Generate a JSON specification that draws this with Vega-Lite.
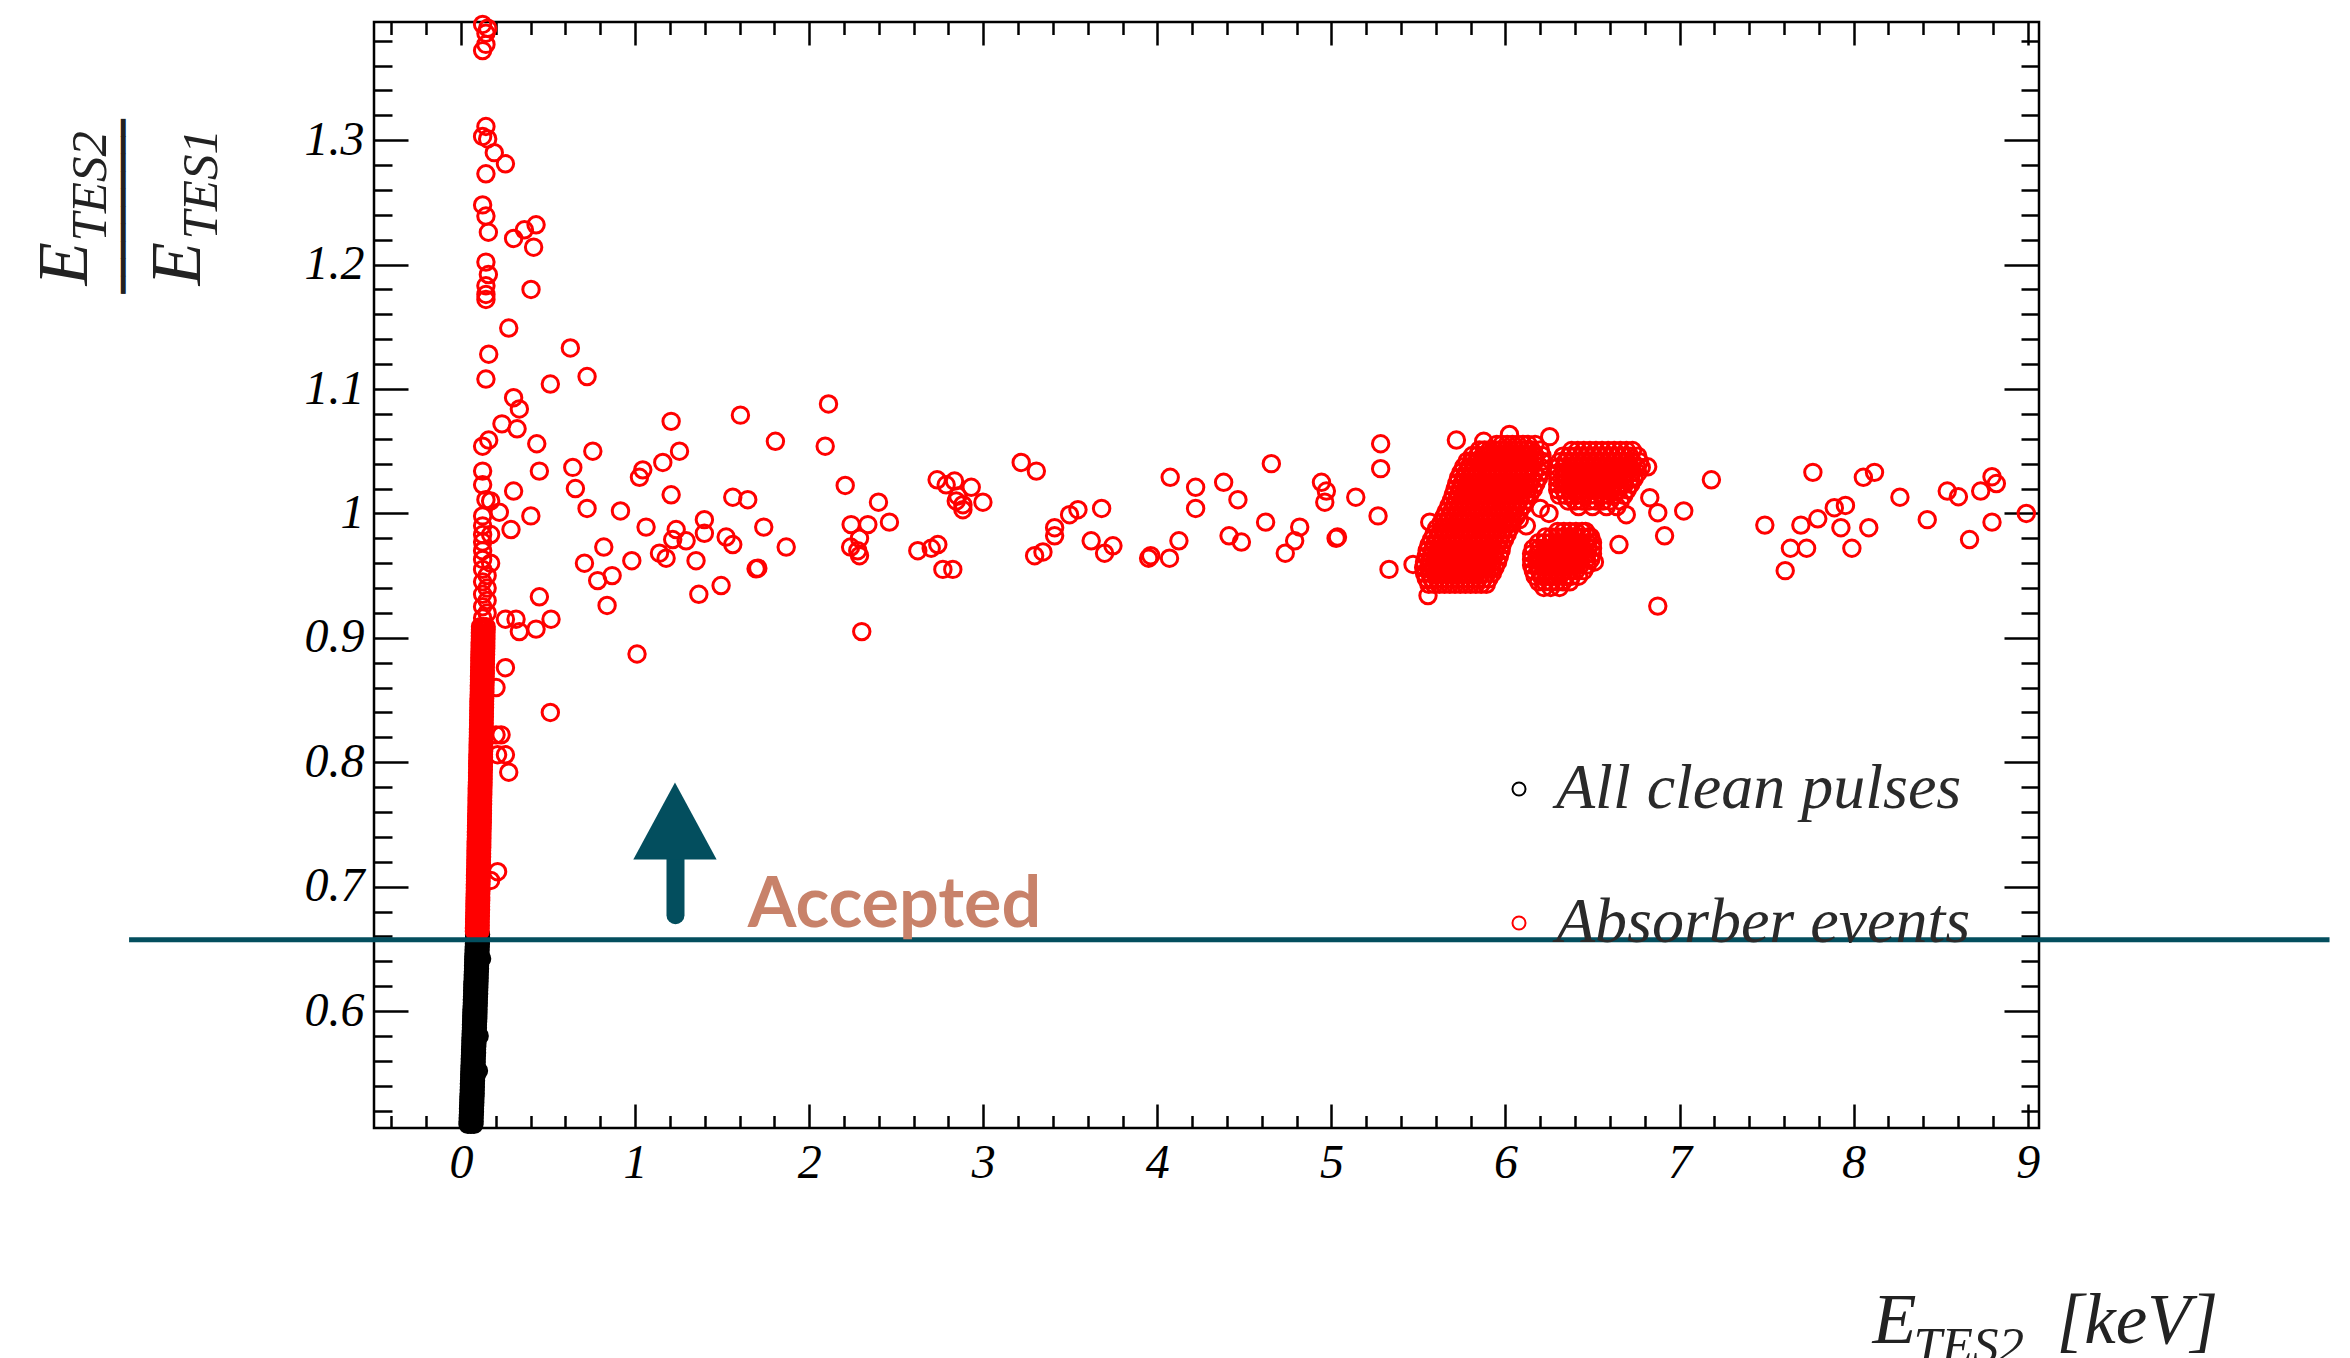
{
  "$schema": "https://vega.github.io/schema/vega-lite/v6.json",
  "width": 1665,
  "height": 1106,
  "autosize": {"type": "none"},
  "padding": {"left": 374, "top": 22, "right": 311, "bottom": 230},
  "background": "white",
  "config": {
    "view": {"stroke": "#000", "strokeWidth": 2.5},
    "axis": {"grid": false, "domain": false, "labelFont": "Liberation Serif", "labelFontStyle": "italic", "labelColor": "#000", "tickColor": "#000", "tickWidth": 2.5, "titleFont": "Liberation Serif", "titleFontStyle": "italic", "titleFontWeight": "normal", "titleColor": "#222", "labelOverlap": false, "labelFlush": false, "labelBound": false}
  },
  "datasets": {
    "clean": [
      {"e":0.040,"r":0.509},{"e":0.057,"r":0.509},{"e":0.074,"r":0.509},
      {"e":0.041,"r":0.5115},{"e":0.058,"r":0.5115},{"e":0.075,"r":0.5115},
      {"e":0.041,"r":0.514},{"e":0.058,"r":0.514},{"e":0.075,"r":0.514},
      {"e":0.042,"r":0.5165},{"e":0.059,"r":0.5165},{"e":0.076,"r":0.5165},
      {"e":0.043,"r":0.519},{"e":0.060,"r":0.519},{"e":0.077,"r":0.519},
      {"e":0.043,"r":0.5215},{"e":0.060,"r":0.5215},{"e":0.077,"r":0.5215},
      {"e":0.044,"r":0.524},{"e":0.061,"r":0.524},{"e":0.078,"r":0.524},
      {"e":0.045,"r":0.5265},{"e":0.062,"r":0.5265},{"e":0.079,"r":0.5265},
      {"e":0.045,"r":0.529},{"e":0.062,"r":0.529},{"e":0.079,"r":0.529},
      {"e":0.046,"r":0.5315},{"e":0.063,"r":0.5315},{"e":0.080,"r":0.5315},
      {"e":0.047,"r":0.534},{"e":0.064,"r":0.534},{"e":0.081,"r":0.534},
      {"e":0.047,"r":0.5365},{"e":0.064,"r":0.5365},{"e":0.081,"r":0.5365},
      {"e":0.048,"r":0.539},{"e":0.065,"r":0.539},{"e":0.082,"r":0.539},
      {"e":0.048,"r":0.5415},{"e":0.065,"r":0.5415},{"e":0.082,"r":0.5415},
      {"e":0.049,"r":0.544},{"e":0.066,"r":0.544},{"e":0.083,"r":0.544},
      {"e":0.050,"r":0.5465},{"e":0.067,"r":0.5465},{"e":0.084,"r":0.5465},
      {"e":0.050,"r":0.549},{"e":0.067,"r":0.549},{"e":0.084,"r":0.549},
      {"e":0.051,"r":0.5515},{"e":0.068,"r":0.5515},{"e":0.085,"r":0.5515},
      {"e":0.052,"r":0.554},{"e":0.069,"r":0.554},{"e":0.086,"r":0.554},
      {"e":0.052,"r":0.5565},{"e":0.069,"r":0.5565},{"e":0.086,"r":0.5565},
      {"e":0.053,"r":0.559},{"e":0.070,"r":0.559},{"e":0.087,"r":0.559},
      {"e":0.053,"r":0.5615},{"e":0.070,"r":0.5615},{"e":0.087,"r":0.5615},
      {"e":0.054,"r":0.564},{"e":0.071,"r":0.564},{"e":0.088,"r":0.564},
      {"e":0.055,"r":0.5665},{"e":0.072,"r":0.5665},{"e":0.089,"r":0.5665},
      {"e":0.055,"r":0.569},{"e":0.072,"r":0.569},{"e":0.089,"r":0.569},
      {"e":0.056,"r":0.5715},{"e":0.073,"r":0.5715},{"e":0.090,"r":0.5715},
      {"e":0.057,"r":0.574},{"e":0.074,"r":0.574},{"e":0.091,"r":0.574},
      {"e":0.057,"r":0.5765},{"e":0.074,"r":0.5765},{"e":0.091,"r":0.5765},
      {"e":0.058,"r":0.579},{"e":0.075,"r":0.579},{"e":0.092,"r":0.579},
      {"e":0.058,"r":0.5815},{"e":0.075,"r":0.5815},{"e":0.092,"r":0.5815},
      {"e":0.059,"r":0.584},{"e":0.076,"r":0.584},{"e":0.093,"r":0.584},
      {"e":0.060,"r":0.5865},{"e":0.077,"r":0.5865},{"e":0.094,"r":0.5865},
      {"e":0.060,"r":0.589},{"e":0.077,"r":0.589},{"e":0.094,"r":0.589},
      {"e":0.061,"r":0.5915},{"e":0.078,"r":0.5915},{"e":0.095,"r":0.5915},
      {"e":0.062,"r":0.594},{"e":0.079,"r":0.594},{"e":0.096,"r":0.594},
      {"e":0.062,"r":0.5965},{"e":0.079,"r":0.5965},{"e":0.096,"r":0.5965},
      {"e":0.063,"r":0.599},{"e":0.080,"r":0.599},{"e":0.097,"r":0.599},
      {"e":0.063,"r":0.6015},{"e":0.080,"r":0.6015},{"e":0.097,"r":0.6015},
      {"e":0.064,"r":0.604},{"e":0.081,"r":0.604},{"e":0.098,"r":0.604},
      {"e":0.065,"r":0.6065},{"e":0.082,"r":0.6065},{"e":0.099,"r":0.6065},
      {"e":0.065,"r":0.609},{"e":0.082,"r":0.609},{"e":0.099,"r":0.609},
      {"e":0.066,"r":0.6115},{"e":0.083,"r":0.6115},{"e":0.100,"r":0.6115},
      {"e":0.067,"r":0.614},{"e":0.084,"r":0.614},{"e":0.101,"r":0.614},
      {"e":0.067,"r":0.6165},{"e":0.084,"r":0.6165},{"e":0.101,"r":0.6165},
      {"e":0.068,"r":0.619},{"e":0.085,"r":0.619},{"e":0.102,"r":0.619},
      {"e":0.068,"r":0.6215},{"e":0.085,"r":0.6215},{"e":0.102,"r":0.6215},
      {"e":0.069,"r":0.624},{"e":0.086,"r":0.624},{"e":0.103,"r":0.624},
      {"e":0.070,"r":0.6265},{"e":0.087,"r":0.6265},{"e":0.104,"r":0.6265},
      {"e":0.070,"r":0.629},{"e":0.087,"r":0.629},{"e":0.104,"r":0.629},
      {"e":0.071,"r":0.6315},{"e":0.088,"r":0.6315},{"e":0.105,"r":0.6315},
      {"e":0.072,"r":0.634},{"e":0.089,"r":0.634},{"e":0.106,"r":0.634},
      {"e":0.072,"r":0.6365},{"e":0.089,"r":0.6365},{"e":0.106,"r":0.6365},
      {"e":0.073,"r":0.639},{"e":0.090,"r":0.639},{"e":0.107,"r":0.639},
      {"e":0.073,"r":0.6415},{"e":0.090,"r":0.6415},{"e":0.107,"r":0.6415},
      {"e":0.074,"r":0.644},{"e":0.091,"r":0.644},{"e":0.108,"r":0.644},
      {"e":0.075,"r":0.6465},{"e":0.092,"r":0.6465},{"e":0.109,"r":0.6465},
      {"e":0.075,"r":0.649},{"e":0.092,"r":0.649},{"e":0.109,"r":0.649},
      {"e":0.076,"r":0.6515},{"e":0.093,"r":0.6515},{"e":0.110,"r":0.6515},
      {"e":0.077,"r":0.654},{"e":0.094,"r":0.654},{"e":0.111,"r":0.654},
      {"e":0.077,"r":0.6565},{"e":0.094,"r":0.6565},{"e":0.111,"r":0.6565},
      {"e":0.078,"r":0.659},{"e":0.095,"r":0.659},{"e":0.112,"r":0.659},
      {"e":0.078,"r":0.6615},{"e":0.095,"r":0.6615},{"e":0.112,"r":0.6615},
      {"e":0.118,"r":0.642},{"e":0.104,"r":0.58},{"e":0.1,"r":0.552}
    ],
    "absorber": [
      {"e":0.077,"r":0.664},{"e":0.093,"r":0.664},{"e":0.109,"r":0.664},
      {"e":0.077,"r":0.6665},{"e":0.093,"r":0.6665},{"e":0.109,"r":0.6665},
      {"e":0.078,"r":0.669},{"e":0.094,"r":0.669},{"e":0.110,"r":0.669},
      {"e":0.078,"r":0.6715},{"e":0.094,"r":0.6715},{"e":0.110,"r":0.6715},
      {"e":0.078,"r":0.674},{"e":0.094,"r":0.674},{"e":0.110,"r":0.674},
      {"e":0.079,"r":0.6765},{"e":0.095,"r":0.6765},{"e":0.111,"r":0.6765},
      {"e":0.079,"r":0.679},{"e":0.095,"r":0.679},{"e":0.111,"r":0.679},
      {"e":0.080,"r":0.6815},{"e":0.096,"r":0.6815},{"e":0.112,"r":0.6815},
      {"e":0.080,"r":0.684},{"e":0.096,"r":0.684},{"e":0.112,"r":0.684},
      {"e":0.080,"r":0.6865},{"e":0.096,"r":0.6865},{"e":0.112,"r":0.6865},
      {"e":0.081,"r":0.689},{"e":0.097,"r":0.689},{"e":0.113,"r":0.689},
      {"e":0.081,"r":0.6915},{"e":0.097,"r":0.6915},{"e":0.113,"r":0.6915},
      {"e":0.081,"r":0.694},{"e":0.097,"r":0.694},{"e":0.113,"r":0.694},
      {"e":0.082,"r":0.6965},{"e":0.098,"r":0.6965},{"e":0.114,"r":0.6965},
      {"e":0.082,"r":0.699},{"e":0.098,"r":0.699},{"e":0.114,"r":0.699},
      {"e":0.082,"r":0.7015},{"e":0.098,"r":0.7015},{"e":0.114,"r":0.7015},
      {"e":0.083,"r":0.704},{"e":0.099,"r":0.704},{"e":0.115,"r":0.704},
      {"e":0.083,"r":0.7065},{"e":0.099,"r":0.7065},{"e":0.115,"r":0.7065},
      {"e":0.083,"r":0.709},{"e":0.099,"r":0.709},{"e":0.115,"r":0.709},
      {"e":0.084,"r":0.7115},{"e":0.100,"r":0.7115},{"e":0.116,"r":0.7115},
      {"e":0.084,"r":0.714},{"e":0.100,"r":0.714},{"e":0.116,"r":0.714},
      {"e":0.085,"r":0.7165},{"e":0.101,"r":0.7165},{"e":0.117,"r":0.7165},
      {"e":0.085,"r":0.719},{"e":0.101,"r":0.719},{"e":0.117,"r":0.719},
      {"e":0.085,"r":0.7215},{"e":0.101,"r":0.7215},{"e":0.117,"r":0.7215},
      {"e":0.086,"r":0.724},{"e":0.102,"r":0.724},{"e":0.118,"r":0.724},
      {"e":0.086,"r":0.7265},{"e":0.102,"r":0.7265},{"e":0.118,"r":0.7265},
      {"e":0.086,"r":0.729},{"e":0.102,"r":0.729},{"e":0.118,"r":0.729},
      {"e":0.087,"r":0.7315},{"e":0.103,"r":0.7315},{"e":0.119,"r":0.7315},
      {"e":0.087,"r":0.734},{"e":0.103,"r":0.734},{"e":0.119,"r":0.734},
      {"e":0.087,"r":0.7365},{"e":0.103,"r":0.7365},{"e":0.119,"r":0.7365},
      {"e":0.088,"r":0.739},{"e":0.104,"r":0.739},{"e":0.120,"r":0.739},
      {"e":0.088,"r":0.7415},{"e":0.104,"r":0.7415},{"e":0.120,"r":0.7415},
      {"e":0.088,"r":0.744},{"e":0.104,"r":0.744},{"e":0.120,"r":0.744},
      {"e":0.089,"r":0.7465},{"e":0.105,"r":0.7465},{"e":0.121,"r":0.7465},
      {"e":0.089,"r":0.749},{"e":0.105,"r":0.749},{"e":0.121,"r":0.749},
      {"e":0.090,"r":0.7515},{"e":0.106,"r":0.7515},{"e":0.122,"r":0.7515},
      {"e":0.090,"r":0.754},{"e":0.106,"r":0.754},{"e":0.122,"r":0.754},
      {"e":0.090,"r":0.7565},{"e":0.106,"r":0.7565},{"e":0.122,"r":0.7565},
      {"e":0.091,"r":0.759},{"e":0.107,"r":0.759},{"e":0.123,"r":0.759},
      {"e":0.091,"r":0.7615},{"e":0.107,"r":0.7615},{"e":0.123,"r":0.7615},
      {"e":0.091,"r":0.764},{"e":0.107,"r":0.764},{"e":0.123,"r":0.764},
      {"e":0.092,"r":0.7665},{"e":0.108,"r":0.7665},{"e":0.124,"r":0.7665},
      {"e":0.092,"r":0.769},{"e":0.108,"r":0.769},{"e":0.124,"r":0.769},
      {"e":0.092,"r":0.7715},{"e":0.108,"r":0.7715},{"e":0.124,"r":0.7715},
      {"e":0.093,"r":0.774},{"e":0.109,"r":0.774},{"e":0.125,"r":0.774},
      {"e":0.093,"r":0.7765},{"e":0.109,"r":0.7765},{"e":0.125,"r":0.7765},
      {"e":0.093,"r":0.779},{"e":0.109,"r":0.779},{"e":0.125,"r":0.779},
      {"e":0.094,"r":0.7815},{"e":0.110,"r":0.7815},{"e":0.126,"r":0.7815},
      {"e":0.094,"r":0.784},{"e":0.110,"r":0.784},{"e":0.126,"r":0.784},
      {"e":0.095,"r":0.7865},{"e":0.111,"r":0.7865},{"e":0.127,"r":0.7865},
      {"e":0.095,"r":0.789},{"e":0.111,"r":0.789},{"e":0.127,"r":0.789},
      {"e":0.095,"r":0.7915},{"e":0.111,"r":0.7915},{"e":0.127,"r":0.7915},
      {"e":0.096,"r":0.794},{"e":0.112,"r":0.794},{"e":0.128,"r":0.794},
      {"e":0.096,"r":0.7965},{"e":0.112,"r":0.7965},{"e":0.128,"r":0.7965},
      {"e":0.096,"r":0.799},{"e":0.112,"r":0.799},{"e":0.128,"r":0.799},
      {"e":0.097,"r":0.8015},{"e":0.113,"r":0.8015},{"e":0.129,"r":0.8015},
      {"e":0.097,"r":0.804},{"e":0.113,"r":0.804},{"e":0.129,"r":0.804},
      {"e":0.097,"r":0.8065},{"e":0.113,"r":0.8065},{"e":0.129,"r":0.8065},
      {"e":0.098,"r":0.809},{"e":0.114,"r":0.809},{"e":0.130,"r":0.809},
      {"e":0.098,"r":0.8115},{"e":0.114,"r":0.8115},{"e":0.130,"r":0.8115},
      {"e":0.098,"r":0.814},{"e":0.114,"r":0.814},{"e":0.130,"r":0.814},
      {"e":0.099,"r":0.8165},{"e":0.115,"r":0.8165},{"e":0.131,"r":0.8165},
      {"e":0.099,"r":0.819},{"e":0.115,"r":0.819},{"e":0.131,"r":0.819},
      {"e":0.100,"r":0.8215},{"e":0.116,"r":0.8215},{"e":0.132,"r":0.8215},
      {"e":0.100,"r":0.824},{"e":0.116,"r":0.824},{"e":0.132,"r":0.824},
      {"e":0.100,"r":0.8265},{"e":0.116,"r":0.8265},{"e":0.132,"r":0.8265},
      {"e":0.101,"r":0.829},{"e":0.117,"r":0.829},{"e":0.133,"r":0.829},
      {"e":0.101,"r":0.8315},{"e":0.117,"r":0.8315},{"e":0.133,"r":0.8315},
      {"e":0.101,"r":0.834},{"e":0.117,"r":0.834},{"e":0.133,"r":0.834},
      {"e":0.102,"r":0.8365},{"e":0.118,"r":0.8365},{"e":0.134,"r":0.8365},
      {"e":0.102,"r":0.839},{"e":0.118,"r":0.839},{"e":0.134,"r":0.839},
      {"e":0.102,"r":0.8415},{"e":0.118,"r":0.8415},{"e":0.134,"r":0.8415},
      {"e":0.103,"r":0.844},{"e":0.119,"r":0.844},{"e":0.135,"r":0.844},
      {"e":0.103,"r":0.8465},{"e":0.119,"r":0.8465},{"e":0.135,"r":0.8465},
      {"e":0.103,"r":0.849},{"e":0.119,"r":0.849},{"e":0.135,"r":0.849},
      {"e":0.104,"r":0.8515},{"e":0.120,"r":0.8515},{"e":0.136,"r":0.8515},
      {"e":0.104,"r":0.854},{"e":0.120,"r":0.854},{"e":0.136,"r":0.854},
      {"e":0.105,"r":0.8565},{"e":0.121,"r":0.8565},{"e":0.137,"r":0.8565},
      {"e":0.105,"r":0.859},{"e":0.121,"r":0.859},{"e":0.137,"r":0.859},
      {"e":0.105,"r":0.8615},{"e":0.121,"r":0.8615},{"e":0.137,"r":0.8615},
      {"e":0.106,"r":0.864},{"e":0.122,"r":0.864},{"e":0.138,"r":0.864},
      {"e":0.106,"r":0.8665},{"e":0.122,"r":0.8665},{"e":0.138,"r":0.8665},
      {"e":0.106,"r":0.869},{"e":0.122,"r":0.869},{"e":0.138,"r":0.869},
      {"e":0.107,"r":0.8715},{"e":0.123,"r":0.8715},{"e":0.139,"r":0.8715},
      {"e":0.107,"r":0.874},{"e":0.123,"r":0.874},{"e":0.139,"r":0.874},
      {"e":0.107,"r":0.8765},{"e":0.123,"r":0.8765},{"e":0.139,"r":0.8765},
      {"e":0.108,"r":0.879},{"e":0.124,"r":0.879},{"e":0.140,"r":0.879},
      {"e":0.108,"r":0.8815},{"e":0.124,"r":0.8815},{"e":0.140,"r":0.8815},
      {"e":0.108,"r":0.884},{"e":0.124,"r":0.884},{"e":0.140,"r":0.884},
      {"e":0.109,"r":0.8865},{"e":0.125,"r":0.8865},{"e":0.141,"r":0.8865},
      {"e":0.109,"r":0.889},{"e":0.125,"r":0.889},{"e":0.141,"r":0.889},
      {"e":0.110,"r":0.8915},{"e":0.126,"r":0.8915},{"e":0.142,"r":0.8915},
      {"e":0.110,"r":0.894},{"e":0.126,"r":0.894},{"e":0.142,"r":0.894},
      {"e":0.110,"r":0.8965},{"e":0.126,"r":0.8965},{"e":0.142,"r":0.8965},
      {"e":0.111,"r":0.899},{"e":0.127,"r":0.899},{"e":0.143,"r":0.899},
      {"e":0.111,"r":0.9015},{"e":0.127,"r":0.9015},{"e":0.143,"r":0.9015},
      {"e":0.111,"r":0.904},{"e":0.127,"r":0.904},{"e":0.143,"r":0.904},
      {"e":0.112,"r":0.9065},{"e":0.128,"r":0.9065},{"e":0.144,"r":0.9065},
      {"e":0.112,"r":0.909},{"e":0.128,"r":0.909},{"e":0.144,"r":0.909},
      {"e":0.124,"r":0.916},{"e":0.15,"r":0.92},{"e":0.124,"r":0.925},{"e":0.15,"r":0.93},{"e":0.124,"r":0.935},{"e":0.15,"r":0.94},
      {"e":0.124,"r":0.945},{"e":0.15,"r":0.95},{"e":0.124,"r":0.955},{"e":0.124,"r":0.963},{"e":0.17,"r":0.96},{"e":0.124,"r":0.97},
      {"e":0.124,"r":0.977},{"e":0.17,"r":0.983},{"e":0.124,"r":0.983},{"e":0.124,"r":0.99},{"e":0.124,"r":0.998},{"e":0.143,"r":1.011},
      {"e":0.17,"r":1.01},{"e":0.124,"r":1.023},{"e":0.124,"r":1.034},{"e":0.159,"r":1.059},{"e":0.124,"r":1.054},
      {"e":0.124,"r":1.393},{"e":0.153,"r":1.39},{"e":0.143,"r":1.386},{"e":0.143,"r":1.377},{"e":0.124,"r":1.372},
      {"e":0.143,"r":1.311},{"e":0.124,"r":1.303},{"e":0.153,"r":1.301},{"e":0.191,"r":1.29},{"e":0.255,"r":1.281},{"e":0.143,"r":1.273},
      {"e":0.124,"r":1.248},{"e":0.143,"r":1.239},{"e":0.157,"r":1.226},{"e":0.302,"r":1.221},{"e":0.364,"r":1.228},{"e":0.431,"r":1.232},{"e":0.417,"r":1.214},
      {"e":0.143,"r":1.202},{"e":0.157,"r":1.192},{"e":0.143,"r":1.183},{"e":0.143,"r":1.176},{"e":0.143,"r":1.172},{"e":0.402,"r":1.18},{"e":0.274,"r":1.149},
      {"e":0.628,"r":1.133},{"e":0.159,"r":1.128},{"e":0.724,"r":1.11},{"e":0.143,"r":1.108},{"e":0.513,"r":1.104},{"e":0.302,"r":1.093},{"e":0.335,"r":1.084},
      {"e":0.235,"r":1.072},{"e":0.322,"r":1.068},{"e":1.207,"r":1.074},{"e":1.605,"r":1.079},{"e":0.435,"r":1.056},{"e":0.757,"r":1.05},{"e":1.255,"r":1.05},
      {"e":1.159,"r":1.041},{"e":1.044,"r":1.035},{"e":1.025,"r":1.029},{"e":0.45,"r":1.034},{"e":0.642,"r":1.037},{"e":0.302,"r":1.018},{"e":0.657,"r":1.02},
      {"e":1.207,"r":1.015},{"e":1.561,"r":1.013},{"e":1.647,"r":1.011},{"e":0.22,"r":1.001},{"e":0.724,"r":1.004},{"e":0.916,"r":1.002},{"e":0.401,"r":0.998},
      {"e":1.063,"r":0.989},{"e":1.398,"r":0.995},{"e":1.398,"r":0.984},{"e":1.236,"r":0.987},{"e":1.523,"r":0.981},{"e":1.561,"r":0.975},{"e":0.287,"r":0.987},
      {"e":1.216,"r":0.979},{"e":1.293,"r":0.978},{"e":1.14,"r":0.968},{"e":1.178,"r":0.964},{"e":1.35,"r":0.962},{"e":0.82,"r":0.973},{"e":0.981,"r":0.962},
      {"e":0.709,"r":0.96},{"e":0.868,"r":0.95},{"e":0.785,"r":0.946},{"e":1.494,"r":0.942},{"e":1.366,"r":0.935},{"e":0.839,"r":0.926},{"e":0.45,"r":0.933},
      {"e":0.255,"r":0.915},{"e":0.316,"r":0.915},{"e":0.517,"r":0.915},{"e":0.335,"r":0.905},{"e":0.431,"r":0.907},{"e":1.011,"r":0.887},{"e":0.255,"r":0.876},
      {"e":0.201,"r":0.86},{"e":0.513,"r":0.84},{"e":0.201,"r":0.822},{"e":0.23,"r":0.822},{"e":0.21,"r":0.806},{"e":0.255,"r":0.806},{"e":0.274,"r":0.792},
      {"e":0.21,"r":0.712},{"e":0.17,"r":0.705},
      {"e":1.806,"r":1.058},{"e":2.111,"r":1.088},{"e":2.092,"r":1.054},{"e":2.207,"r":1.0225},{"e":1.739,"r":0.989},{"e":1.868,"r":0.973},{"e":1.695,"r":0.9555},{"e":1.705,"r":0.956},
      {"e":2.398,"r":1.009},{"e":2.241,"r":0.991},{"e":2.337,"r":0.991},{"e":2.461,"r":0.993},{"e":2.289,"r":0.98},{"e":2.238,"r":0.973},{"e":2.279,"r":0.97},{"e":2.289,"r":0.966},{"e":2.302,"r":0.905},
      {"e":2.735,"r":1.027},{"e":2.787,"r":1.023},{"e":2.835,"r":1.026},{"e":2.931,"r":1.021},{"e":2.845,"r":1.01},{"e":2.883,"r":1.007},{"e":2.883,"r":1.003},{"e":2.998,"r":1.009},{"e":2.854,"r":1.014},
      {"e":2.624,"r":0.97},{"e":2.701,"r":0.972},{"e":2.739,"r":0.975},{"e":2.768,"r":0.955},{"e":2.825,"r":0.955},
      {"e":3.218,"r":1.041},{"e":3.305,"r":1.034},{"e":3.41,"r":0.9885},{"e":3.41,"r":0.982},{"e":3.496,"r":0.999},{"e":3.544,"r":1.003},{"e":3.295,"r":0.966},{"e":3.343,"r":0.969},{"e":3.62,"r":0.978},
      {"e":3.68,"r":1.004},{"e":3.697,"r":0.968},{"e":3.745,"r":0.974},{"e":3.95,"r":0.964},{"e":3.962,"r":0.966},{"e":4.07,"r":0.964},{"e":4.124,"r":0.978},{"e":4.074,"r":1.029},
      {"e":4.22,"r":1.021},{"e":4.22,"r":1.004},{"e":4.381,"r":1.025},{"e":4.463,"r":1.011},{"e":4.412,"r":0.982},{"e":4.483,"r":0.977},{"e":4.655,"r":1.04},{"e":4.622,"r":0.993},
      {"e":4.735,"r":0.968},{"e":4.789,"r":0.978},{"e":4.818,"r":0.989},{"e":4.943,"r":1.025},{"e":4.971,"r":1.018},{"e":4.962,"r":1.009},{"e":5.027,"r":0.98},{"e":5.035,"r":0.981},
      {"e":5.14,"r":1.013},{"e":5.283,"r":1.056},{"e":5.283,"r":1.036},{"e":5.268,"r":0.998},{"e":5.331,"r":0.955},{"e":5.718,"r":1.059},{"e":5.565,"r":0.993},{"e":5.469,"r":0.959},{"e":5.555,"r":0.934},
      {"e":5.875,"r":1.058},{"e":6.023,"r":1.0635},{"e":6.254,"r":1.0617},
      {"e":6.875,"r":0.9255},{"e":6.914,"r":0.982},{"e":6.875,"r":1.0006},{"e":6.829,"r":1.0126},{"e":6.652,"r":0.975},{"e":6.817,"r":1.0375},{"e":6.694,"r":0.999},{"e":6.511,"r":0.961},
      {"e":7.024,"r":1.002},{"e":7.183,"r":1.027},{"e":7.49,"r":0.9906},{"e":7.607,"r":0.954},{"e":7.637,"r":0.972},{"e":7.73,"r":0.972},{"e":7.697,"r":0.9906},{"e":7.766,"r":1.033},
      {"e":7.794,"r":0.9957},{"e":7.889,"r":1.0046},{"e":7.953,"r":1.0064},{"e":7.927,"r":0.9885},{"e":7.99,"r":0.972},{"e":8.056,"r":1.029},{"e":8.12,"r":1.033},{"e":8.087,"r":0.9885},
      {"e":8.266,"r":1.013},{"e":8.423,"r":0.995},{"e":8.538,"r":1.018},{"e":8.602,"r":1.0134},{"e":8.666,"r":0.979},{"e":8.73,"r":1.018},{"e":8.795,"r":1.0295},{"e":8.82,"r":1.024},{"e":8.795,"r":0.993},{"e":8.992,"r":1.0},
      {"e":5.56,"r":0.943},{"e":5.59,"r":0.943},{"e":5.62,"r":0.943},{"e":5.65,"r":0.943},{"e":5.68,"r":0.943},{"e":5.71,"r":0.943},{"e":5.74,"r":0.943},{"e":5.77,"r":0.943},{"e":5.8,"r":0.943},{"e":5.83,"r":0.943},{"e":5.86,"r":0.943},{"e":5.89,"r":0.943},
      {"e":5.545,"r":0.9475},{"e":5.575,"r":0.9475},{"e":5.605,"r":0.9475},{"e":5.635,"r":0.9475},{"e":5.665,"r":0.9475},{"e":5.695,"r":0.9475},{"e":5.725,"r":0.9475},{"e":5.755,"r":0.9475},{"e":5.785,"r":0.9475},{"e":5.815,"r":0.9475},{"e":5.845,"r":0.9475},{"e":5.875,"r":0.9475},{"e":5.905,"r":0.9475},
      {"e":5.535,"r":0.952},{"e":5.565,"r":0.952},{"e":5.595,"r":0.952},{"e":5.625,"r":0.952},{"e":5.655,"r":0.952},{"e":5.685,"r":0.952},{"e":5.715,"r":0.952},{"e":5.745,"r":0.952},{"e":5.775,"r":0.952},{"e":5.805,"r":0.952},{"e":5.835,"r":0.952},{"e":5.865,"r":0.952},{"e":5.895,"r":0.952},{"e":5.925,"r":0.952},
      {"e":5.53,"r":0.9565},{"e":5.56,"r":0.9565},{"e":5.59,"r":0.9565},{"e":5.62,"r":0.9565},{"e":5.65,"r":0.9565},{"e":5.68,"r":0.9565},{"e":5.71,"r":0.9565},{"e":5.74,"r":0.9565},{"e":5.77,"r":0.9565},{"e":5.8,"r":0.9565},{"e":5.83,"r":0.9565},{"e":5.86,"r":0.9565},{"e":5.89,"r":0.9565},{"e":5.92,"r":0.9565},{"e":5.94,"r":0.9565},
      {"e":5.535,"r":0.961},{"e":5.565,"r":0.961},{"e":5.595,"r":0.961},{"e":5.625,"r":0.961},{"e":5.655,"r":0.961},{"e":5.685,"r":0.961},{"e":5.715,"r":0.961},{"e":5.745,"r":0.961},{"e":5.775,"r":0.961},{"e":5.805,"r":0.961},{"e":5.835,"r":0.961},{"e":5.865,"r":0.961},{"e":5.895,"r":0.961},{"e":5.925,"r":0.961},{"e":5.955,"r":0.961},
      {"e":5.545,"r":0.9655},{"e":5.575,"r":0.9655},{"e":5.605,"r":0.9655},{"e":5.635,"r":0.9655},{"e":5.665,"r":0.9655},{"e":5.695,"r":0.9655},{"e":5.725,"r":0.9655},{"e":5.755,"r":0.9655},{"e":5.785,"r":0.9655},{"e":5.815,"r":0.9655},{"e":5.845,"r":0.9655},{"e":5.875,"r":0.9655},{"e":5.905,"r":0.9655},{"e":5.935,"r":0.9655},{"e":5.965,"r":0.9655},
      {"e":5.55,"r":0.97},{"e":5.58,"r":0.97},{"e":5.61,"r":0.97},{"e":5.64,"r":0.97},{"e":5.67,"r":0.97},{"e":5.7,"r":0.97},{"e":5.73,"r":0.97},{"e":5.76,"r":0.97},{"e":5.79,"r":0.97},{"e":5.82,"r":0.97},{"e":5.85,"r":0.97},{"e":5.88,"r":0.97},{"e":5.91,"r":0.97},{"e":5.94,"r":0.97},{"e":5.975,"r":0.97},
      {"e":5.56,"r":0.9745},{"e":5.59,"r":0.9745},{"e":5.62,"r":0.9745},{"e":5.65,"r":0.9745},{"e":5.68,"r":0.9745},{"e":5.71,"r":0.9745},{"e":5.74,"r":0.9745},{"e":5.77,"r":0.9745},{"e":5.8,"r":0.9745},{"e":5.83,"r":0.9745},{"e":5.86,"r":0.9745},{"e":5.89,"r":0.9745},{"e":5.92,"r":0.9745},{"e":5.95,"r":0.9745},{"e":5.98,"r":0.9745},
      {"e":5.575,"r":0.979},{"e":5.605,"r":0.979},{"e":5.635,"r":0.979},{"e":5.665,"r":0.979},{"e":5.695,"r":0.979},{"e":5.725,"r":0.979},{"e":5.755,"r":0.979},{"e":5.785,"r":0.979},{"e":5.815,"r":0.979},{"e":5.845,"r":0.979},{"e":5.875,"r":0.979},{"e":5.905,"r":0.979},{"e":5.935,"r":0.979},{"e":5.965,"r":0.979},{"e":5.995,"r":0.979},
      {"e":5.59,"r":0.9835},{"e":5.62,"r":0.9835},{"e":5.65,"r":0.9835},{"e":5.68,"r":0.9835},{"e":5.71,"r":0.9835},{"e":5.74,"r":0.9835},{"e":5.77,"r":0.9835},{"e":5.8,"r":0.9835},{"e":5.83,"r":0.9835},{"e":5.86,"r":0.9835},{"e":5.89,"r":0.9835},{"e":5.92,"r":0.9835},{"e":5.95,"r":0.9835},{"e":5.98,"r":0.9835},{"e":6.01,"r":0.9835},
      {"e":5.605,"r":0.988},{"e":5.635,"r":0.988},{"e":5.665,"r":0.988},{"e":5.695,"r":0.988},{"e":5.725,"r":0.988},{"e":5.755,"r":0.988},{"e":5.785,"r":0.988},{"e":5.815,"r":0.988},{"e":5.845,"r":0.988},{"e":5.875,"r":0.988},{"e":5.905,"r":0.988},{"e":5.935,"r":0.988},{"e":5.965,"r":0.988},{"e":5.995,"r":0.988},{"e":6.025,"r":0.988},
      {"e":5.63,"r":0.9925},{"e":5.66,"r":0.9925},{"e":5.69,"r":0.9925},{"e":5.72,"r":0.9925},{"e":5.75,"r":0.9925},{"e":5.78,"r":0.9925},{"e":5.81,"r":0.9925},{"e":5.84,"r":0.9925},{"e":5.87,"r":0.9925},{"e":5.9,"r":0.9925},{"e":5.93,"r":0.9925},{"e":5.96,"r":0.9925},{"e":5.99,"r":0.9925},{"e":6.02,"r":0.9925},{"e":6.04,"r":0.9925},
      {"e":5.645,"r":0.997},{"e":5.675,"r":0.997},{"e":5.705,"r":0.997},{"e":5.735,"r":0.997},{"e":5.765,"r":0.997},{"e":5.795,"r":0.997},{"e":5.825,"r":0.997},{"e":5.855,"r":0.997},{"e":5.885,"r":0.997},{"e":5.915,"r":0.997},{"e":5.945,"r":0.997},{"e":5.975,"r":0.997},{"e":6.005,"r":0.997},{"e":6.035,"r":0.997},{"e":6.06,"r":0.997},
      {"e":5.66,"r":1.0015},{"e":5.69,"r":1.0015},{"e":5.72,"r":1.0015},{"e":5.75,"r":1.0015},{"e":5.78,"r":1.0015},{"e":5.81,"r":1.0015},{"e":5.84,"r":1.0015},{"e":5.87,"r":1.0015},{"e":5.9,"r":1.0015},{"e":5.93,"r":1.0015},{"e":5.96,"r":1.0015},{"e":5.99,"r":1.0015},{"e":6.02,"r":1.0015},{"e":6.05,"r":1.0015},{"e":6.08,"r":1.0015},
      {"e":5.675,"r":1.006},{"e":5.705,"r":1.006},{"e":5.735,"r":1.006},{"e":5.765,"r":1.006},{"e":5.795,"r":1.006},{"e":5.825,"r":1.006},{"e":5.855,"r":1.006},{"e":5.885,"r":1.006},{"e":5.915,"r":1.006},{"e":5.945,"r":1.006},{"e":5.975,"r":1.006},{"e":6.005,"r":1.006},{"e":6.035,"r":1.006},{"e":6.065,"r":1.006},{"e":6.1,"r":1.006},
      {"e":5.69,"r":1.0105},{"e":5.72,"r":1.0105},{"e":5.75,"r":1.0105},{"e":5.78,"r":1.0105},{"e":5.81,"r":1.0105},{"e":5.84,"r":1.0105},{"e":5.87,"r":1.0105},{"e":5.9,"r":1.0105},{"e":5.93,"r":1.0105},{"e":5.96,"r":1.0105},{"e":5.99,"r":1.0105},{"e":6.02,"r":1.0105},{"e":6.05,"r":1.0105},{"e":6.08,"r":1.0105},{"e":6.12,"r":1.0105},
      {"e":5.7,"r":1.015},{"e":5.73,"r":1.015},{"e":5.76,"r":1.015},{"e":5.79,"r":1.015},{"e":5.82,"r":1.015},{"e":5.85,"r":1.015},{"e":5.88,"r":1.015},{"e":5.91,"r":1.015},{"e":5.94,"r":1.015},{"e":5.97,"r":1.015},{"e":6.0,"r":1.015},{"e":6.03,"r":1.015},{"e":6.06,"r":1.015},{"e":6.09,"r":1.015},{"e":6.12,"r":1.015},{"e":6.14,"r":1.015},
      {"e":5.71,"r":1.0195},{"e":5.74,"r":1.0195},{"e":5.77,"r":1.0195},{"e":5.8,"r":1.0195},{"e":5.83,"r":1.0195},{"e":5.86,"r":1.0195},{"e":5.89,"r":1.0195},{"e":5.92,"r":1.0195},{"e":5.95,"r":1.0195},{"e":5.98,"r":1.0195},{"e":6.01,"r":1.0195},{"e":6.04,"r":1.0195},{"e":6.07,"r":1.0195},{"e":6.1,"r":1.0195},{"e":6.13,"r":1.0195},{"e":6.16,"r":1.0195},
      {"e":5.72,"r":1.024},{"e":5.75,"r":1.024},{"e":5.78,"r":1.024},{"e":5.81,"r":1.024},{"e":5.84,"r":1.024},{"e":5.87,"r":1.024},{"e":5.9,"r":1.024},{"e":5.93,"r":1.024},{"e":5.96,"r":1.024},{"e":5.99,"r":1.024},{"e":6.02,"r":1.024},{"e":6.05,"r":1.024},{"e":6.08,"r":1.024},{"e":6.11,"r":1.024},{"e":6.14,"r":1.024},{"e":6.175,"r":1.024},
      {"e":5.73,"r":1.0285},{"e":5.76,"r":1.0285},{"e":5.79,"r":1.0285},{"e":5.82,"r":1.0285},{"e":5.85,"r":1.0285},{"e":5.88,"r":1.0285},{"e":5.91,"r":1.0285},{"e":5.94,"r":1.0285},{"e":5.97,"r":1.0285},{"e":6.0,"r":1.0285},{"e":6.03,"r":1.0285},{"e":6.06,"r":1.0285},{"e":6.09,"r":1.0285},{"e":6.12,"r":1.0285},{"e":6.15,"r":1.0285},{"e":6.19,"r":1.0285},
      {"e":5.745,"r":1.033},{"e":5.775,"r":1.033},{"e":5.805,"r":1.033},{"e":5.835,"r":1.033},{"e":5.865,"r":1.033},{"e":5.895,"r":1.033},{"e":5.925,"r":1.033},{"e":5.955,"r":1.033},{"e":5.985,"r":1.033},{"e":6.015,"r":1.033},{"e":6.045,"r":1.033},{"e":6.075,"r":1.033},{"e":6.105,"r":1.033},{"e":6.135,"r":1.033},{"e":6.165,"r":1.033},{"e":6.2,"r":1.033},
      {"e":5.76,"r":1.0375},{"e":5.79,"r":1.0375},{"e":5.82,"r":1.0375},{"e":5.85,"r":1.0375},{"e":5.88,"r":1.0375},{"e":5.91,"r":1.0375},{"e":5.94,"r":1.0375},{"e":5.97,"r":1.0375},{"e":6.0,"r":1.0375},{"e":6.03,"r":1.0375},{"e":6.06,"r":1.0375},{"e":6.09,"r":1.0375},{"e":6.12,"r":1.0375},{"e":6.15,"r":1.0375},{"e":6.2,"r":1.0375},
      {"e":5.78,"r":1.042},{"e":5.81,"r":1.042},{"e":5.84,"r":1.042},{"e":5.87,"r":1.042},{"e":5.9,"r":1.042},{"e":5.93,"r":1.042},{"e":5.96,"r":1.042},{"e":5.99,"r":1.042},{"e":6.02,"r":1.042},{"e":6.05,"r":1.042},{"e":6.08,"r":1.042},{"e":6.11,"r":1.042},{"e":6.14,"r":1.042},{"e":6.17,"r":1.042},{"e":6.21,"r":1.042},
      {"e":5.81,"r":1.0465},{"e":5.84,"r":1.0465},{"e":5.87,"r":1.0465},{"e":5.9,"r":1.0465},{"e":5.93,"r":1.0465},{"e":5.96,"r":1.0465},{"e":5.99,"r":1.0465},{"e":6.02,"r":1.0465},{"e":6.05,"r":1.0465},{"e":6.08,"r":1.0465},{"e":6.11,"r":1.0465},{"e":6.14,"r":1.0465},{"e":6.17,"r":1.0465},{"e":6.21,"r":1.0465},
      {"e":5.85,"r":1.051},{"e":5.88,"r":1.051},{"e":5.91,"r":1.051},{"e":5.94,"r":1.051},{"e":5.97,"r":1.051},{"e":6.0,"r":1.051},{"e":6.03,"r":1.051},{"e":6.06,"r":1.051},{"e":6.09,"r":1.051},{"e":6.12,"r":1.051},{"e":6.15,"r":1.051},{"e":6.2,"r":1.051},
      {"e":5.95,"r":1.0555},{"e":5.98,"r":1.0555},{"e":6.01,"r":1.0555},{"e":6.04,"r":1.0555},{"e":6.07,"r":1.0555},{"e":6.1,"r":1.0555},{"e":6.13,"r":1.0555},{"e":6.17,"r":1.0555},
      {"e":6.38,"r":1.0505},{"e":6.415,"r":1.0505},{"e":6.45,"r":1.0505},{"e":6.485,"r":1.0505},{"e":6.52,"r":1.0505},{"e":6.555,"r":1.0505},{"e":6.59,"r":1.0505},{"e":6.625,"r":1.0505},{"e":6.66,"r":1.0505},{"e":6.695,"r":1.0505},{"e":6.73,"r":1.0505},
      {"e":6.33,"r":1.046},{"e":6.365,"r":1.046},{"e":6.4,"r":1.046},{"e":6.435,"r":1.046},{"e":6.47,"r":1.046},{"e":6.505,"r":1.046},{"e":6.54,"r":1.046},{"e":6.575,"r":1.046},{"e":6.61,"r":1.046},{"e":6.645,"r":1.046},{"e":6.68,"r":1.046},{"e":6.715,"r":1.046},{"e":6.76,"r":1.046},
      {"e":6.31,"r":1.0415},{"e":6.345,"r":1.0415},{"e":6.38,"r":1.0415},{"e":6.415,"r":1.0415},{"e":6.45,"r":1.0415},{"e":6.485,"r":1.0415},{"e":6.52,"r":1.0415},{"e":6.555,"r":1.0415},{"e":6.59,"r":1.0415},{"e":6.625,"r":1.0415},{"e":6.66,"r":1.0415},{"e":6.695,"r":1.0415},{"e":6.73,"r":1.0415},{"e":6.77,"r":1.0415},
      {"e":6.3,"r":1.037},{"e":6.335,"r":1.037},{"e":6.37,"r":1.037},{"e":6.405,"r":1.037},{"e":6.44,"r":1.037},{"e":6.475,"r":1.037},{"e":6.51,"r":1.037},{"e":6.545,"r":1.037},{"e":6.58,"r":1.037},{"e":6.615,"r":1.037},{"e":6.65,"r":1.037},{"e":6.685,"r":1.037},{"e":6.72,"r":1.037},{"e":6.755,"r":1.037},{"e":6.78,"r":1.037},
      {"e":6.3,"r":1.0325},{"e":6.335,"r":1.0325},{"e":6.37,"r":1.0325},{"e":6.405,"r":1.0325},{"e":6.44,"r":1.0325},{"e":6.475,"r":1.0325},{"e":6.51,"r":1.0325},{"e":6.545,"r":1.0325},{"e":6.58,"r":1.0325},{"e":6.615,"r":1.0325},{"e":6.65,"r":1.0325},{"e":6.685,"r":1.0325},{"e":6.72,"r":1.0325},{"e":6.76,"r":1.0325},
      {"e":6.3,"r":1.028},{"e":6.335,"r":1.028},{"e":6.37,"r":1.028},{"e":6.405,"r":1.028},{"e":6.44,"r":1.028},{"e":6.475,"r":1.028},{"e":6.51,"r":1.028},{"e":6.545,"r":1.028},{"e":6.58,"r":1.028},{"e":6.615,"r":1.028},{"e":6.65,"r":1.028},{"e":6.685,"r":1.028},{"e":6.72,"r":1.028},{"e":6.74,"r":1.028},
      {"e":6.3,"r":1.0235},{"e":6.335,"r":1.0235},{"e":6.37,"r":1.0235},{"e":6.405,"r":1.0235},{"e":6.44,"r":1.0235},{"e":6.475,"r":1.0235},{"e":6.51,"r":1.0235},{"e":6.545,"r":1.0235},{"e":6.58,"r":1.0235},{"e":6.615,"r":1.0235},{"e":6.65,"r":1.0235},{"e":6.685,"r":1.0235},{"e":6.72,"r":1.0235},
      {"e":6.3,"r":1.019},{"e":6.335,"r":1.019},{"e":6.37,"r":1.019},{"e":6.405,"r":1.019},{"e":6.44,"r":1.019},{"e":6.475,"r":1.019},{"e":6.51,"r":1.019},{"e":6.545,"r":1.019},{"e":6.58,"r":1.019},{"e":6.615,"r":1.019},{"e":6.65,"r":1.019},{"e":6.7,"r":1.019},
      {"e":6.31,"r":1.0145},{"e":6.345,"r":1.0145},{"e":6.38,"r":1.0145},{"e":6.415,"r":1.0145},{"e":6.45,"r":1.0145},{"e":6.485,"r":1.0145},{"e":6.52,"r":1.0145},{"e":6.555,"r":1.0145},{"e":6.59,"r":1.0145},{"e":6.625,"r":1.0145},{"e":6.68,"r":1.0145},
      {"e":6.36,"r":1.01},{"e":6.4,"r":1.01},{"e":6.44,"r":1.01},{"e":6.48,"r":1.01},{"e":6.52,"r":1.01},{"e":6.56,"r":1.01},{"e":6.6,"r":1.01},{"e":6.66,"r":1.01},
      {"e":6.42,"r":1.0055},{"e":6.5,"r":1.0055},{"e":6.58,"r":1.0055},{"e":6.64,"r":1.0055},
      {"e":6.2,"r":1.004},{"e":6.25,"r":1.0},{"e":6.08,"r":0.995},{"e":6.12,"r":0.99},
      {"e":6.3,"r":0.9855},{"e":6.335,"r":0.9855},{"e":6.37,"r":0.9855},{"e":6.405,"r":0.9855},{"e":6.44,"r":0.9855},{"e":6.46,"r":0.9855},
      {"e":6.23,"r":0.981},{"e":6.265,"r":0.981},{"e":6.3,"r":0.981},{"e":6.335,"r":0.981},{"e":6.37,"r":0.981},{"e":6.405,"r":0.981},{"e":6.44,"r":0.981},{"e":6.475,"r":0.981},{"e":6.49,"r":0.981},
      {"e":6.19,"r":0.9765},{"e":6.225,"r":0.9765},{"e":6.26,"r":0.9765},{"e":6.295,"r":0.9765},{"e":6.33,"r":0.9765},{"e":6.365,"r":0.9765},{"e":6.4,"r":0.9765},{"e":6.435,"r":0.9765},{"e":6.47,"r":0.9765},{"e":6.5,"r":0.9765},
      {"e":6.16,"r":0.972},{"e":6.195,"r":0.972},{"e":6.23,"r":0.972},{"e":6.265,"r":0.972},{"e":6.3,"r":0.972},{"e":6.335,"r":0.972},{"e":6.37,"r":0.972},{"e":6.405,"r":0.972},{"e":6.44,"r":0.972},{"e":6.475,"r":0.972},{"e":6.5,"r":0.972},
      {"e":6.15,"r":0.9675},{"e":6.185,"r":0.9675},{"e":6.22,"r":0.9675},{"e":6.255,"r":0.9675},{"e":6.29,"r":0.9675},{"e":6.325,"r":0.9675},{"e":6.36,"r":0.9675},{"e":6.395,"r":0.9675},{"e":6.43,"r":0.9675},{"e":6.465,"r":0.9675},{"e":6.5,"r":0.9675},
      {"e":6.15,"r":0.963},{"e":6.185,"r":0.963},{"e":6.22,"r":0.963},{"e":6.255,"r":0.963},{"e":6.29,"r":0.963},{"e":6.325,"r":0.963},{"e":6.36,"r":0.963},{"e":6.395,"r":0.963},{"e":6.43,"r":0.963},{"e":6.465,"r":0.963},{"e":6.49,"r":0.963},
      {"e":6.15,"r":0.9585},{"e":6.185,"r":0.9585},{"e":6.22,"r":0.9585},{"e":6.255,"r":0.9585},{"e":6.29,"r":0.9585},{"e":6.325,"r":0.9585},{"e":6.36,"r":0.9585},{"e":6.395,"r":0.9585},{"e":6.43,"r":0.9585},{"e":6.47,"r":0.9585},
      {"e":6.16,"r":0.954},{"e":6.195,"r":0.954},{"e":6.23,"r":0.954},{"e":6.265,"r":0.954},{"e":6.3,"r":0.954},{"e":6.335,"r":0.954},{"e":6.37,"r":0.954},{"e":6.405,"r":0.954},{"e":6.45,"r":0.954},
      {"e":6.17,"r":0.9495},{"e":6.205,"r":0.9495},{"e":6.24,"r":0.9495},{"e":6.275,"r":0.9495},{"e":6.31,"r":0.9495},{"e":6.345,"r":0.9495},{"e":6.38,"r":0.9495},{"e":6.42,"r":0.9495},
      {"e":6.19,"r":0.945},{"e":6.225,"r":0.945},{"e":6.26,"r":0.945},{"e":6.295,"r":0.945},{"e":6.33,"r":0.945},{"e":6.37,"r":0.945},
      {"e":6.22,"r":0.9405},{"e":6.26,"r":0.9405},{"e":6.31,"r":0.9405}
    ]
  },
  "resolve": {"axis": {"x": "independent", "y": "independent"}},
  "layer": [
    {
      "data": {"name": "clean"},
      "mark": {"type": "point", "shape": "circle", "filled": false, "size": 270, "strokeWidth": 3, "opacity": 1},
      "encoding": {
        "x": {"field": "e", "type": "quantitative", "scale": {"domain": [-0.5, 9.065], "nice": false, "zero": false},
          "axis": {"orient": "bottom", "values": [0,1,2,3,4,5,6,7,8,9], "ticks": false, "labelFontSize": 48, "labelPadding": 11, "format": "~g",
            "title": "E", "titleFontSize": 72, "titleAngle": 0, "titleAlign": "left", "titleBaseline": "alphabetic", "titleX": 1498, "titleY": 214}},
        "y": {"field": "r", "type": "quantitative", "scale": {"domain": [0.506, 1.395], "nice": false, "zero": false},
          "axis": {"orient": "left", "values": [0.6,0.7,0.8,0.9,1,1.1,1.2,1.3], "ticks": false, "labelFontSize": 48, "labelPadding": 10, "format": "~g",
            "title": "E", "titleFontSize": 71, "titleAngle": -90, "titleAlign": "left", "titleBaseline": "alphabetic", "titleX": -288, "titleY": 263}},
        "color": {"datum": "All clean pulses", "type": "nominal",
          "scale": {"domain": ["All clean pulses", "Absorber events"], "range": ["#000000", "#ff0000"]},
          "legend": {"orient": "none", "legendX": 1113, "legendY": 735, "title": null, "padding": 0, "symbolType": "circle", "symbolSize": 170, "symbolStrokeWidth": 2,
            "labelFont": "Liberation Serif", "labelFontStyle": "italic", "labelFontSize": 64, "labelColor": "#2a2a2a", "rowPadding": 70, "labelOffset": 5, "labelLimit": 0}}
      }
    },
    {
      "data": {"name": "absorber"},
      "mark": {"type": "point", "shape": "circle", "filled": false, "size": 270, "strokeWidth": 3, "opacity": 1},
      "encoding": {
        "x": {"field": "e", "type": "quantitative", "scale": {"domain": [-0.5, 9.065], "nice": false, "zero": false},
          "axis": {"orient": "bottom", "values": [0,1,2,3,4,5,6,7,8,9], "labels": false, "tickSize": -24,
            "title": "TES2", "titleFontSize": 51, "titleAngle": 0, "titleAlign": "left", "titleBaseline": "alphabetic", "titleX": 1539, "titleY": 233}},
        "y": {"field": "r", "type": "quantitative", "scale": {"domain": [0.506, 1.395], "nice": false, "zero": false},
          "axis": {"orient": "left", "values": [0.6,0.7,0.8,0.9,1,1.1,1.2,1.3], "labels": false, "tickSize": -34,
            "title": "TES2", "titleFontSize": 51, "titleAngle": -90, "titleAlign": "left", "titleBaseline": "alphabetic", "titleX": -269, "titleY": 219}},
        "color": {"datum": "Absorber events", "type": "nominal"}
      }
    },
    {
      "data": {"values": [{"e": 0, "r": 1}]},
      "mark": {"type": "point", "opacity": 0},
      "encoding": {
        "x": {"field": "e", "type": "quantitative", "scale": {"domain": [-0.5, 9.065], "nice": false, "zero": false},
          "axis": {"orient": "bottom", "values": [-0.4,-0.2,0.2,0.4,0.6,0.8,1.2,1.4,1.6,1.8,2.2,2.4,2.6,2.8,3.2,3.4,3.6,3.8,4.2,4.4,4.6,4.8,5.2,5.4,5.6,5.8,6.2,6.4,6.6,6.8,7.2,7.4,7.6,7.8,8.2,8.4,8.6,8.8], "labels": false, "tickSize": -12.5,
            "title": "[keV]", "titleFontSize": 71, "titleAngle": 0, "titleAlign": "left", "titleBaseline": "alphabetic", "titleX": 1682, "titleY": 214}},
        "y": {"field": "r", "type": "quantitative", "scale": {"domain": [0.506, 1.395], "nice": false, "zero": false},
          "axis": {"orient": "left", "values": [0.52,0.54,0.56,0.58,0.62,0.64,0.66,0.68,0.72,0.74,0.76,0.78,0.82,0.84,0.86,0.88,0.92,0.94,0.96,0.98,1.02,1.04,1.06,1.08,1.12,1.14,1.16,1.18,1.22,1.24,1.26,1.28,1.32,1.34,1.36,1.38], "labels": false, "tickSize": -18,
            "title": "━━━━━━━━━━", "titleFont": "DejaVu Sans Mono", "titleFontStyle": "normal", "titleFontSize": 29, "titleAngle": -90, "titleAlign": "center", "titleBaseline": "middle", "titleX": -251, "titleY": 184}}
      }
    },
    {
      "data": {"values": [{"e": 0, "r": 1}]},
      "mark": {"type": "point", "opacity": 0},
      "encoding": {
        "x": {"field": "e", "type": "quantitative", "scale": {"domain": [-0.5, 9.065], "nice": false, "zero": false},
          "axis": {"orient": "top", "values": [0,1,2,3,4,5,6,7,8,9], "labels": false, "tickSize": -23, "title": null}},
        "y": {"field": "r", "type": "quantitative", "scale": {"domain": [0.506, 1.395], "nice": false, "zero": false},
          "axis": {"orient": "right", "values": [0.6,0.7,0.8,0.9,1,1.1,1.2,1.3], "labels": false, "tickSize": -35,
            "title": "E", "titleFontSize": 71, "titleAngle": -90, "titleAlign": "left", "titleBaseline": "alphabetic", "titleX": -1840, "titleY": 263}}
      }
    },
    {
      "data": {"values": [{"e": 0, "r": 1}]},
      "mark": {"type": "point", "opacity": 0},
      "encoding": {
        "x": {"field": "e", "type": "quantitative", "scale": {"domain": [-0.5, 9.065], "nice": false, "zero": false},
          "axis": {"orient": "top", "values": [-0.4,-0.2,0.2,0.4,0.6,0.8,1.2,1.4,1.6,1.8,2.2,2.4,2.6,2.8,3.2,3.4,3.6,3.8,4.2,4.4,4.6,4.8,5.2,5.4,5.6,5.8,6.2,6.4,6.6,6.8,7.2,7.4,7.6,7.8,8.2,8.4,8.6,8.8], "labels": false, "tickSize": -12.5, "title": null}},
        "y": {"field": "r", "type": "quantitative", "scale": {"domain": [0.506, 1.395], "nice": false, "zero": false},
          "axis": {"orient": "right", "values": [0.52,0.54,0.56,0.58,0.62,0.64,0.66,0.68,0.72,0.74,0.76,0.78,0.82,0.84,0.86,0.88,0.92,0.94,0.96,0.98,1.02,1.04,1.06,1.08,1.12,1.14,1.16,1.18,1.22,1.24,1.26,1.28,1.32,1.34,1.36,1.38], "labels": false, "tickSize": -18,
            "title": "TES1", "titleFontSize": 51, "titleAngle": -90, "titleAlign": "left", "titleBaseline": "alphabetic", "titleX": -1823, "titleY": 217}}
      }
    },
    {
      "data": {"values": [{}]},
      "mark": {"type": "rule", "color": "#034e5e", "strokeWidth": 5},
      "encoding": {
        "x": {"datum": -1.907, "type": "quantitative", "scale": {"domain": [-0.5, 9.065], "nice": false, "zero": false}, "axis": null},
        "x2": {"datum": 10.734},
        "y": {"datum": 0.6573, "type": "quantitative", "scale": {"domain": [0.506, 1.395], "nice": false, "zero": false}, "axis": null}
      }
    },
    {
      "data": {"values": [{}]},
      "mark": {"type": "rule", "color": "#034e5e", "strokeWidth": 18, "strokeCap": "round"},
      "encoding": {
        "x": {"datum": 1.232, "type": "quantitative", "scale": {"domain": [-0.5, 9.065], "nice": false, "zero": false}, "axis": null},
        "y": {"datum": 0.677, "type": "quantitative", "scale": {"domain": [0.506, 1.395], "nice": false, "zero": false}, "axis": null},
        "y2": {"datum": 0.73}
      }
    },
    {
      "data": {"values": [{}]},
      "mark": {"type": "point", "shape": "M0,-0.925L1,0.925L-1,0.925Z", "filled": true, "size": 6939, "color": "#034e5e", "opacity": 1, "strokeWidth": 0},
      "encoding": {
        "x": {"datum": 1.229, "type": "quantitative", "scale": {"domain": [-0.5, 9.065], "nice": false, "zero": false}, "axis": null},
        "y": {"datum": 0.7527, "type": "quantitative", "scale": {"domain": [0.506, 1.395], "nice": false, "zero": false}, "axis": null}
      }
    },
    {
      "data": {"values": [{}]},
      "mark": {"type": "text", "text": "Accepted", "font": "Lato", "fontSize": 70, "fontWeight": "bold", "color": "#c8826a", "align": "left", "baseline": "alphabetic"},
      "encoding": {
        "x": {"datum": 1.647, "type": "quantitative", "scale": {"domain": [-0.5, 9.065], "nice": false, "zero": false}, "axis": null},
        "y": {"datum": 0.6678, "type": "quantitative", "scale": {"domain": [0.506, 1.395], "nice": false, "zero": false}, "axis": null}
      }
    }
  ]
}
